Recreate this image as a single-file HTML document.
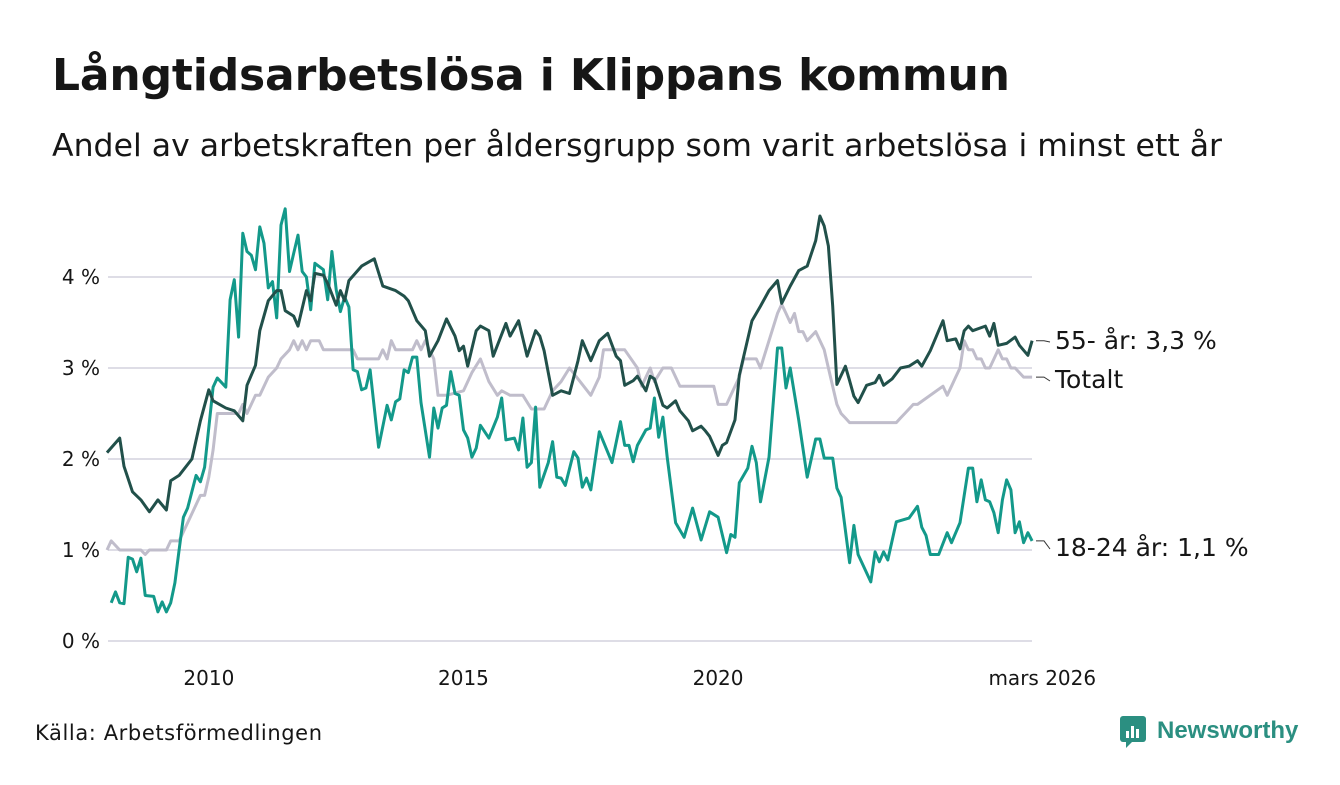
<!DOCTYPE html>
<html><head><meta charset="utf-8">
<style>
body{margin:0;background:#fff;width:1340px;height:780px;overflow:hidden;font-family:"Liberation Sans","DejaVu Sans",sans-serif;}
svg text{font-family:"DejaVu Sans","Liberation Sans",sans-serif;}
svg text.lib{font-family:"Liberation Sans","DejaVu Sans",sans-serif;}
</style></head>
<body>
<svg id="chart" width="1340" height="780" viewBox="0 0 1340 780">
<text x="52" y="90" font-size="44" font-weight="bold" fill="#161616" textLength="958">Långtidsarbetslösa i Klippans kommun</text>
<text x="52" y="156" font-size="31.5" fill="#161616" textLength="1170">Andel av arbetskraften per åldersgrupp som varit arbetslösa i minst ett år</text>
<g id="grid"></g>
<g id="yticks"></g>
<g id="xticks"></g>
<g id="lines"></g>
<g id="labels"></g>
<text x="35" y="740" font-size="21" fill="#161616" textLength="287">Källa: Arbetsförmedlingen</text>
<g>
<rect x="1120" y="716" width="26" height="26" rx="3" fill="#2b8f81"/>
<rect x="1126" y="731" width="3" height="7" fill="#fff"/><rect x="1131" y="726" width="3" height="12" fill="#fff"/><rect x="1136" y="729" width="3" height="9" fill="#fff"/>
<polygon points="1126,742 1132,742 1126,748" fill="#2b8f81"/>
<text class="lib" x="1157" y="738" font-size="24" font-weight="bold" fill="#2b8f81">Newsworthy</text>
</g>
</svg>
<script>
const yTicks=[0,1,2,3,4];
const yTickLabels=["0 %","1 %","2 %","3 %","4 %"];
const xTickMonths=[24,84,144,218];
const xTickLabels=["2010","2015","2020","mars 2026"];
const m55=[0,3,4,6,8,10,12,14,15,17,20,22,24,25,28,30,32,33,35,36,38,40,41,42,44,45,47,48,49,51,52,54,55,56,57,60,63,65,68,70,71,73,75,76,78,80,82,83,84,85,87,88,90,91,94,95,97,99,101,102,103,105,107,109,111,112,114,116,118,120,121,122,124,125,127,128,129,131,132,134,135,137,138,140,141,142,144,145,146,148,149,152,154,156,158,159,161,163,165,167,168,169,170,171,172,174,175,176,177,179,181,182,183,185,187,189,191,192,194,196,197,198,200,201,202,203,204,207,208,209,210,212,214,215,217,218];
const v55=[2.07,2.23,1.92,1.64,1.55,1.42,1.55,1.44,1.76,1.82,2.0,2.42,2.76,2.64,2.56,2.53,2.42,2.81,3.03,3.41,3.74,3.85,3.85,3.63,3.57,3.46,3.85,3.74,4.04,4.02,3.93,3.69,3.85,3.74,3.96,4.12,4.20,3.90,3.85,3.79,3.74,3.52,3.41,3.13,3.30,3.54,3.35,3.19,3.24,3.02,3.41,3.46,3.41,3.13,3.49,3.35,3.52,3.13,3.41,3.35,3.19,2.70,2.75,2.72,3.08,3.30,3.08,3.30,3.38,3.13,3.08,2.81,2.86,2.91,2.75,2.91,2.88,2.59,2.56,2.64,2.53,2.42,2.31,2.36,2.31,2.25,2.04,2.15,2.18,2.43,2.92,3.52,3.68,3.85,3.96,3.71,3.90,4.07,4.12,4.40,4.67,4.56,4.34,3.68,2.82,3.02,2.86,2.69,2.62,2.81,2.84,2.92,2.81,2.88,3.0,3.02,3.08,3.02,3.19,3.41,3.52,3.30,3.32,3.21,3.41,3.46,3.41,3.46,3.35,3.49,3.25,3.27,3.34,3.25,3.14,3.30];
const mTot=[0,1,3,8,9,10,14,15,17,18,20,22,23,24,25,26,31,32,33,35,36,38,40,41,43,44,45,46,47,48,50,51,58,59,64,65,66,67,68,72,73,74,75,76,77,78,80,84,86,88,90,92,93,95,98,100,103,105,107,109,114,116,117,122,125,126,128,129,131,133,135,143,144,146,147,149,150,153,154,156,158,159,160,161,162,163,164,165,167,169,170,172,173,174,175,186,187,188,190,191,197,198,199,200,201,202,203,204,205,206,207,208,210,211,212,213,214,216,218];
const vTot=[1.0,1.1,1.0,1.0,0.95,1.0,1.0,1.1,1.1,1.2,1.4,1.6,1.6,1.8,2.1,2.5,2.5,2.6,2.5,2.7,2.7,2.9,3.0,3.1,3.2,3.3,3.2,3.3,3.2,3.3,3.3,3.2,3.2,3.1,3.1,3.2,3.1,3.3,3.2,3.2,3.3,3.2,3.3,3.2,3.1,2.7,2.7,2.75,2.95,3.1,2.85,2.7,2.75,2.7,2.7,2.55,2.55,2.75,2.85,3.0,2.7,2.9,3.2,3.2,3.0,2.8,3.0,2.85,3.0,3.0,2.8,2.8,2.6,2.6,2.7,2.9,3.1,3.1,3.0,3.3,3.6,3.7,3.6,3.5,3.6,3.4,3.4,3.3,3.4,3.2,3.0,2.6,2.5,2.45,2.4,2.4,2.45,2.5,2.6,2.6,2.8,2.7,2.8,2.9,3.0,3.3,3.2,3.2,3.1,3.1,3.0,3.0,3.2,3.1,3.1,3.0,3.0,2.9,2.9];
const mYoung=[1,2,3,4,5,6,7,8,9,11,12,13,14,15,16,17,18,19,21,22,23,25,26,28,29,30,31,32,33,34,35,36,37,38,39,40,41,42,43,44,45,46,47,48,49,51,52,53,54,55,56,57,58,59,60,61,62,64,66,67,68,69,70,71,72,73,74,76,77,78,79,80,81,82,83,84,85,86,87,88,90,92,93,94,96,97,98,99,100,101,102,104,105,106,107,108,110,111,112,113,114,116,119,121,122,123,124,125,127,128,129,130,131,132,134,136,138,140,142,144,146,147,148,149,151,152,153,154,156,158,159,160,161,163,165,167,168,169,171,172,173,175,176,177,180,181,182,183,184,186,189,191,192,193,194,196,198,199,201,203,204,205,206,207,208,209,210,211,212,213,214,215,216,217,218];
const vYoung=[0.42,0.54,0.42,0.41,0.92,0.9,0.76,0.91,0.5,0.49,0.32,0.43,0.32,0.42,0.64,1.0,1.36,1.46,1.82,1.75,1.91,2.79,2.89,2.79,3.75,3.97,3.34,4.48,4.28,4.24,4.08,4.55,4.37,3.88,3.95,3.55,4.57,4.75,4.06,4.26,4.46,4.06,4.0,3.64,4.15,4.08,3.75,4.28,3.86,3.62,3.78,3.67,2.98,2.96,2.76,2.78,2.98,2.13,2.59,2.43,2.63,2.66,2.98,2.95,3.12,3.12,2.62,2.02,2.56,2.34,2.56,2.59,2.96,2.72,2.70,2.32,2.23,2.02,2.12,2.37,2.23,2.46,2.67,2.21,2.23,2.10,2.45,1.91,1.96,2.57,1.69,1.96,2.19,1.80,1.79,1.71,2.08,2.01,1.69,1.79,1.66,2.30,1.96,2.41,2.15,2.15,1.97,2.15,2.32,2.34,2.67,2.24,2.46,2.02,1.30,1.14,1.46,1.11,1.42,1.36,0.97,1.17,1.14,1.74,1.90,2.14,1.96,1.53,2.02,3.22,3.22,2.78,3.00,2.43,1.80,2.22,2.22,2.01,2.01,1.68,1.58,0.86,1.27,0.95,0.65,0.98,0.87,0.98,0.89,1.31,1.35,1.48,1.25,1.16,0.95,0.95,1.19,1.08,1.30,1.90,1.90,1.53,1.77,1.55,1.53,1.41,1.19,1.55,1.77,1.66,1.19,1.31,1.08,1.19,1.1];

const X0=107,X1=1033.5,M1=218.33,Y0=641,PPU=91;
function xs(m){return X0+(X1-X0)*m/M1;}
function ys(v){return Y0-v*PPU;}
const NS="http://www.w3.org/2000/svg";
function mk(t,attrs,parent){const e=document.createElementNS(NS,t);for(const k in attrs)e.setAttribute(k,attrs[k]);parent.appendChild(e);return e;}
const grid=document.getElementById('grid'),yt=document.getElementById('yticks'),xt=document.getElementById('xticks');
yTicks.forEach((v,i)=>{
  const l=mk('line',{x1:108,x2:1032,y1:ys(v),y2:ys(v),stroke:'#dedde6','stroke-width':2},grid);
  
  
  const t=mk('text',{x:100,y:ys(v)+7,'text-anchor':'end','font-size':20,fill:'#161616'},yt);
  t.textContent=yTickLabels[i];
  
  
});
xTickMonths.forEach((m,i)=>{
  const last=i===xTickMonths.length-1;
  const t=mk('text',{x:last?xs(m)+64:xs(m),y:685,'text-anchor':last?'end':'middle','font-size':20,fill:'#161616'},xt);
  t.textContent=xTickLabels[i];
  
  
});
function line(ms,vs,color,name){
  const d=ms.map((m,i)=>(i?'L':'M')+xs(m).toFixed(1)+','+ys(vs[i]).toFixed(1)).join('');
  const p=mk('path',{d:d,fill:'none',stroke:color,'stroke-width':3,'stroke-linejoin':'round'},document.getElementById('lines'));
  
  
}
line(mTot,vTot,'#c0bdcb','line-totalt');
line(mYoung,vYoung,'#13998a','line-18-24');
line(m55,v55,'#21504a','line-55');
const lab=document.getElementById('labels');
function label(v,ly,text,name){
  const y=ys(v);
  mk('path',{d:`M1036,${y} L1044,${y} L1050,${ly-7}`,fill:'none',stroke:'#333','stroke-width':1},lab);
  const t=mk('text',{x:1055,y:ly,'font-size':25,fill:'#161616'},lab);
  t.textContent=text;
  
  
}
label(v55[v55.length-1],349,'55- år: 3,3 %','label-55');
label(vTot[vTot.length-1],388,'Totalt','label-totalt');
label(vYoung[vYoung.length-1],556,'18-24 år: 1,1 %','label-18-24');
</script>
</body></html>
